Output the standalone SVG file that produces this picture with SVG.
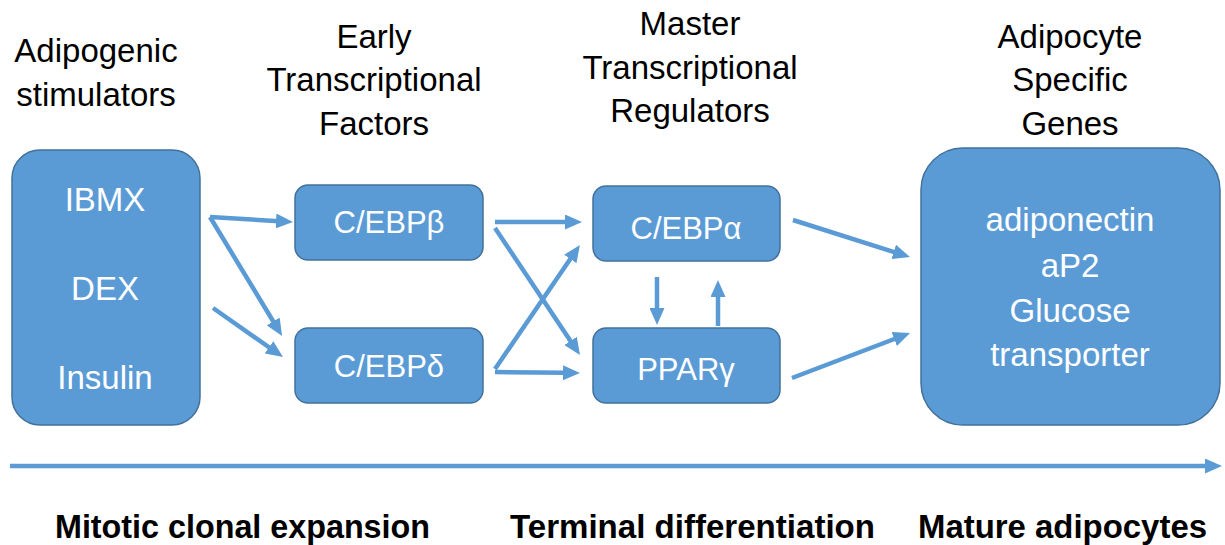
<svg xmlns="http://www.w3.org/2000/svg" width="1225" height="545" viewBox="0 0 1225 545">
  <style>
    .box { fill: #5B9BD5; stroke: #41719C; stroke-width: 1.5; }
    .lbl { font-family: "Liberation Sans", Arial, sans-serif; font-size: 31px; fill: #ffffff; text-anchor: middle; }
    .big { font-size: 33px; }
    .hdr { font-family: "Liberation Sans", Arial, sans-serif; font-size: 33px; fill: #000000; text-anchor: middle; }
    .stage { font-family: "Liberation Sans", Arial, sans-serif; font-size: 34px; font-weight: bold; fill: #000000; }
    .arrow { stroke: #5B9BD5; stroke-width: 4.5; fill: none; marker-end: url(#head); }
  </style>
  <defs>
    <marker id="head" viewBox="0 0 17 15" markerUnits="userSpaceOnUse" markerWidth="17" markerHeight="15" refX="3" refY="7.5" orient="auto">
      <path d="M0,0 L17,7.5 L0,15 z" fill="#5B9BD5"/>
    </marker>
  </defs>

  <!-- column headings -->
  <g id="headings">
    <text class="hdr" x="96" y="62">Adipogenic</text>
    <text class="hdr" x="96" y="106">stimulators</text>
    <text class="hdr" x="374" y="48">Early</text>
    <text class="hdr" x="374" y="91">Transcriptional</text>
    <text class="hdr" x="374" y="135">Factors</text>
    <text class="hdr" x="690" y="35">Master</text>
    <text class="hdr" x="690" y="79">Transcriptional</text>
    <text class="hdr" x="690" y="122">Regulators</text>
    <text class="hdr" x="1070" y="48">Adipocyte</text>
    <text class="hdr" x="1070" y="91">Specific</text>
    <text class="hdr" x="1070" y="135">Genes</text>
  </g>

  <!-- nodes -->
  <g id="stimulators">
    <rect class="box" x="12" y="150" width="188" height="275" rx="28"/>
    <text class="lbl big" x="105" y="211">IBMX</text>
    <text class="lbl big" x="105" y="300">DEX</text>
    <text class="lbl big" x="105" y="389">Insulin</text>
  </g>
  <g id="cebp-beta">
    <rect class="box" x="295" y="185" width="188" height="75" rx="13"/>
    <text class="lbl" x="389" y="233">C/EBPβ</text>
  </g>
  <g id="cebp-delta">
    <rect class="box" x="295" y="328" width="188" height="75" rx="13"/>
    <text class="lbl" x="389" y="377">C/EBPδ</text>
  </g>
  <g id="cebp-alpha">
    <rect class="box" x="593" y="186" width="187" height="75" rx="13"/>
    <text class="lbl" x="686" y="239">C/EBPα</text>
  </g>
  <g id="ppar-gamma">
    <rect class="box" x="593" y="328" width="187" height="75" rx="13"/>
    <text class="lbl" x="686" y="380">PPARγ</text>
  </g>
  <g id="adipocyte-genes">
    <rect class="box" x="921" y="148" width="299" height="277" rx="42"/>
    <text class="lbl big" x="1070" y="231">adiponectin</text>
    <text class="lbl big" x="1070" y="277">aP2</text>
    <text class="lbl big" x="1070" y="322">Glucose</text>
    <text class="lbl big" x="1070" y="366">transporter</text>
  </g>

  <!-- connectors -->
  <g id="connectors">
    <line class="arrow" x1="210" y1="217" x2="279" y2="221.2"/>
    <line class="arrow" x1="210" y1="217" x2="274.8" y2="324"/>
    <line class="arrow" x1="213" y1="308" x2="271.5" y2="349"/>
    <line class="arrow" x1="495" y1="222" x2="568" y2="222"/>
    <line class="arrow" x1="495" y1="228" x2="572.2" y2="343.4"/>
    <line class="arrow" x1="495" y1="369" x2="572" y2="256.5"/>
    <line class="arrow" x1="495" y1="372" x2="566" y2="372.8"/>
    <line class="arrow" x1="793" y1="220" x2="896.6" y2="252.8"/>
    <line class="arrow" x1="792" y1="378" x2="897" y2="338"/>
    <line class="arrow" x1="657" y1="277" x2="657" y2="311"/>
    <line class="arrow" x1="718" y1="326" x2="718" y2="294"/>
    <line class="arrow" x1="10" y1="466" x2="1208" y2="466"/>
  </g>

  <!-- stage labels along the timeline -->
  <g id="stages">
    <text class="stage" x="55" y="538" textLength="375" lengthAdjust="spacingAndGlyphs">Mitotic clonal expansion</text>
    <text class="stage" x="510" y="538" textLength="365" lengthAdjust="spacingAndGlyphs">Terminal differentiation</text>
    <text class="stage" x="918" y="538" textLength="289" lengthAdjust="spacingAndGlyphs">Mature adipocytes</text>
  </g>
</svg>
